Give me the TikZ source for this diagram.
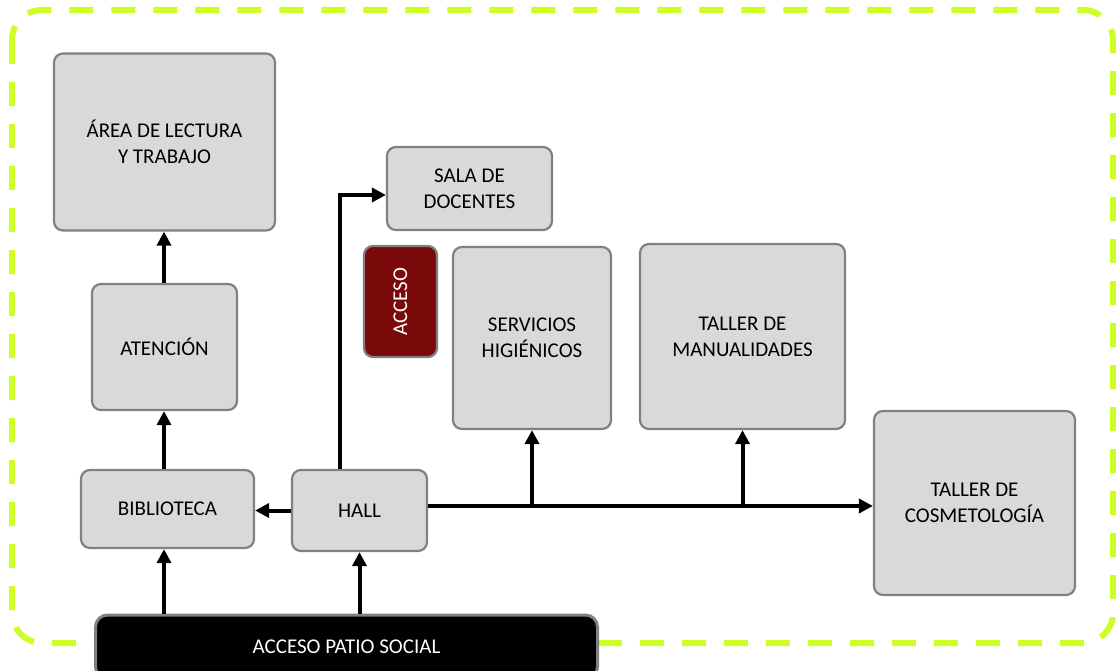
\documentclass[tikz,border=0pt]{standalone}
\usepackage{fontspec}
\setmainfont{Carlito}
\usetikzlibrary{arrows.meta}
\definecolor{boxfill}{HTML}{D9D9D9}
\definecolor{boxline}{HTML}{808080}
\definecolor{lime}{RGB}{204,255,40}
\definecolor{darkred}{RGB}{122,10,10}
\tikzset{
  room/.style={draw=boxline, line width=2.2pt, fill=boxfill, rounded corners=9pt,
    inner sep=0pt, align=center, text=black,
    font=\fontsize{21}{26}\selectfont},
  redbox/.style={room, fill=darkred, text=white},
  blackbox/.style={room, fill=black, text=white, line width=3pt, rounded corners=12pt},
  arr/.style={line width=4pt, -{Triangle[length=14pt,width=14pt]}},
  plain/.style={line width=4pt},
  frame/.style={draw=lime, line width=6pt, dash pattern=on 24pt off 18pt, rounded corners=30pt}
}
\begin{document}
\begin{tikzpicture}[x=1pt,y=-1pt]
\useasboundingbox (0,0) rectangle (1116,671);
\fill[white] (0,0) rectangle (1116,671);
\draw[frame] (12,10) rectangle (1113,643);

\node[room, minimum width=221pt, minimum height=177pt] (area) at (164.5,142) {ÁREA DE LECTURA\\Y TRABAJO};
\node[room, minimum width=145pt, minimum height=126pt] (aten) at (164.5,347) {ATENCIÓN};
\node[room, minimum width=173pt, minimum height=78pt] (bib) at (167.5,509) {BIBLIOTECA};
\node[room, minimum width=135pt, minimum height=81pt] (hall) at (359.5,510.5) {HALL};
\node[room, minimum width=165pt, minimum height=83pt] (sala) at (469.5,188.5) {SALA DE\\DOCENTES};
\node[redbox, rotate=90, minimum width=111pt, minimum height=73pt] (acc) at (400.5,301.5) {ACCESO};
\node[room, minimum width=158pt, minimum height=182pt] (serv) at (532,338) {SERVICIOS\\HIGIÉNICOS};
\node[room, minimum width=205pt, minimum height=185pt] (manu) at (742.5,336.5) {TALLER DE\\MANUALIDADES};
\node[room, minimum width=201pt, minimum height=184pt] (cosm) at (974.5,503) {TALLER DE\\COSMETOLOGÍA};
\node[blackbox, minimum width=502pt, minimum height=64pt] (patio) at (346.5,647) {ACCESO PATIO SOCIAL};

\coordinate (xL) at (164,0);
\coordinate (xH) at (340,0);
\coordinate (yS) at (0,195);
\coordinate (yH) at (0,506);

\draw[arr] (patio.north -| xL) -- (bib.south -| xL);
\draw[arr] (patio.north -| hall.south) -- (hall.south);
\draw[arr] (bib.north -| xL) -- (aten.south -| xL);
\draw[arr] (aten.north -| xL) -- (area.south -| xL);
\draw[arr] (hall.west) -- (hall.west -| bib.east);
\draw[arr] (hall.north -| xH) |- (sala.west |- yS);
\draw[arr] (hall.east |- yH) -- (cosm.west |- yH);
\draw[arr] (serv.south |- yH) -- (serv.south);
\draw[arr] (manu.south |- yH) -- (manu.south);
\end{tikzpicture}
\end{document}
